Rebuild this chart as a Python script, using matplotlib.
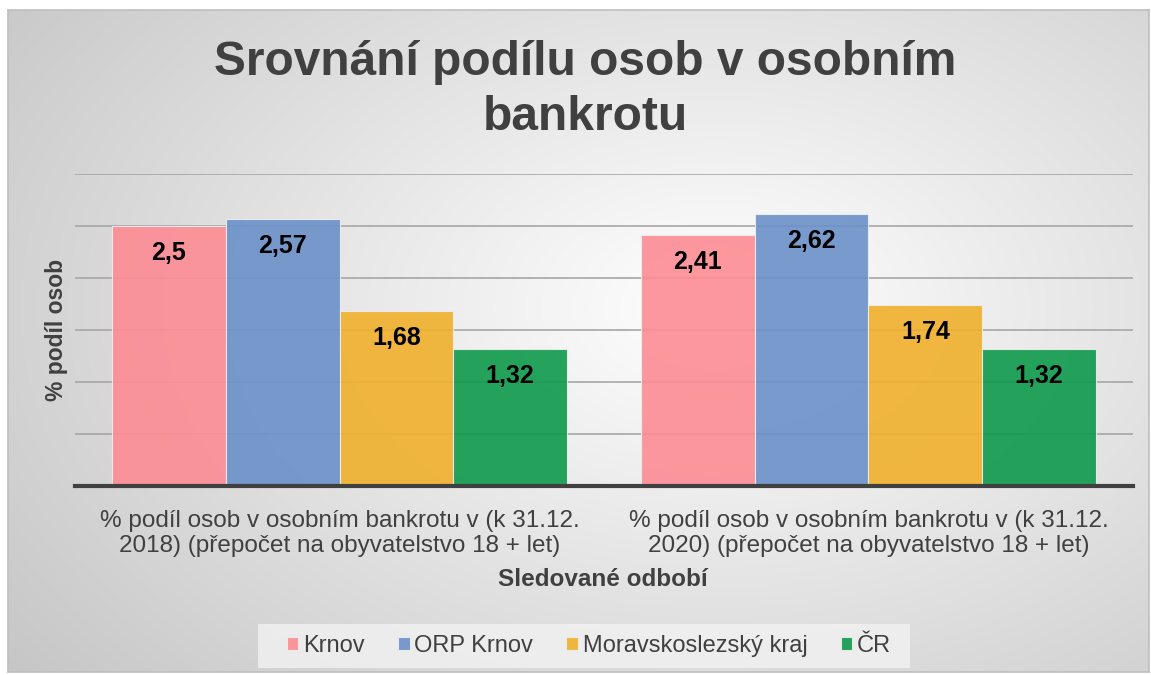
import numpy as np
import matplotlib.pyplot as plt
from matplotlib.patches import Rectangle

plt.rcParams['font.family'] = ['Liberation Sans', 'DejaVu Sans']

categories = ["% podíl osob v osobním bankrotu v (k 31.12.\n2018) (přepočet na obyvatelstvo 18 + let)",
              "% podíl osob v osobním bankrotu v (k 31.12.\n2020) (přepočet na obyvatelstvo 18 + let)"]
series = ["Krnov", "ORP Krnov", "Moravskoslezský kraj", "ČR"]
krnov = [2.5, 2.41]
orp_krnov = [2.57, 2.62]
msk = [1.68, 1.74]
cr = [1.32, 1.32]
labels_2018 = ["2,5", "2,57", "1,68", "1,32"]
labels_2020 = ["2,41", "2,62", "1,74", "1,32"]

colors = ["#fd8c94", "#6b90c8", "#f0b02c", "#0e9a4c"]
W, H = 1151, 675
fig = plt.figure(figsize=(W / 100, H / 100), dpi=100)
fig.patch.set_facecolor("white")

# gradient background frame
x0, y0, x1, y1 = 8, 10, 1149, 672
bg = fig.add_axes([x0 / W, 1 - y1 / H, (x1 - x0) / W, (y1 - y0) / H])
gx, gy = np.meshgrid(np.linspace(0, 1, 400), np.linspace(0, 1, 240))
r = np.sqrt(((gx - 0.62) / 0.75) ** 2 + ((gy - 0.45) / 0.85) ** 2)
v = 1 - 0.24 * np.clip(r, 0, 1.3) / 1.3 * 1.15
img = np.dstack([v, v, v])
bg.imshow(img, extent=[0, 1, 0, 1], origin="upper", aspect="auto")
bg.set_xlim(0, 1)
bg.set_ylim(0, 1)
bg.set_xticks([])
bg.set_yticks([])
for s in bg.spines.values():
    s.set_color("#bfbfbf")
    s.set_linewidth(1.2)

# plot area
px0, px1, py_top, py_bot = 75, 1133, 174, 486
ax = fig.add_axes([px0 / W, 1 - py_bot / H, (px1 - px0) / W, (py_bot - py_top) / H])
ax.set_facecolor("none")
x = np.arange(len(categories))
bw = 0.215
data = [krnov, orp_krnov, msk, cr]
for i, (vals, c) in enumerate(zip(data, colors)):
    pos = x + (i - 1.5) * bw
    ax.bar(pos, vals, bw, color=c, alpha=0.9, edgecolor="#eeeeee", linewidth=0.8,
           label=series[i], zorder=3)
    for j, val in enumerate(vals):
        lab = [labels_2018, labels_2020][j][i]
        ax.text(pos[j], val - 0.26, lab, ha="center", va="center",
                fontsize=18, fontweight="bold", color="black", zorder=4)

ax.set_xlim(-0.5, 1.5)
ax.set_ylim(0, 3.0)
ax.set_yticks(np.arange(0.5, 3.01, 0.5))
ax.yaxis.grid(True, color="#a6a6a6", linewidth=1.2, zorder=0)
ax.tick_params(axis="y", length=0, labelleft=False)
ax.tick_params(axis="x", length=0, pad=17)
ax.set_xticks(x)
ax.set_xticklabels(categories, fontsize=17.5, color="#404040", linespacing=1.2)
for s in ["top", "right", "left"]:
    ax.spines[s].set_visible(False)
ax.spines["bottom"].set_color("#404040")
ax.spines["bottom"].set_linewidth(3)
ax.spines["bottom"].set_zorder(5)

fig.text(57 / W, 1 - 330 / H, "% podíl osob", rotation=90, ha="center", va="center",
         fontsize=16.5, fontweight="bold", color="#404040")
fig.text(603 / W, 1 - 579 / H, "Sledované odbobí", ha="center", va="center",
         fontsize=17.5, fontweight="bold", color="#404040")

fig.text(585 / W, 1 - 90 / H, "Srovnání podílu osob v osobním\nbankrotu", ha="center",
         va="center", fontsize=34.5, fontweight="bold", color="#404040", linespacing=1.27)

# legend box
fig.patches.append(Rectangle((258 / W, 1 - 668 / H), (910 - 258) / W, 44 / H,
                             transform=fig.transFigure, facecolor="#f2f2f2",
                             edgecolor="none", alpha=0.8, zorder=1))
handles, labs = ax.get_legend_handles_labels()
leg = fig.legend(handles, labs, loc="center", bbox_to_anchor=(589 / W, 1 - 646 / H),
                 ncol=4, frameon=False, fontsize=17, handlelength=0.5, handleheight=0.5,
                 handletextpad=0.2, columnspacing=1.4, labelcolor="#404040")

fig.savefig("out.png", dpi=100)
